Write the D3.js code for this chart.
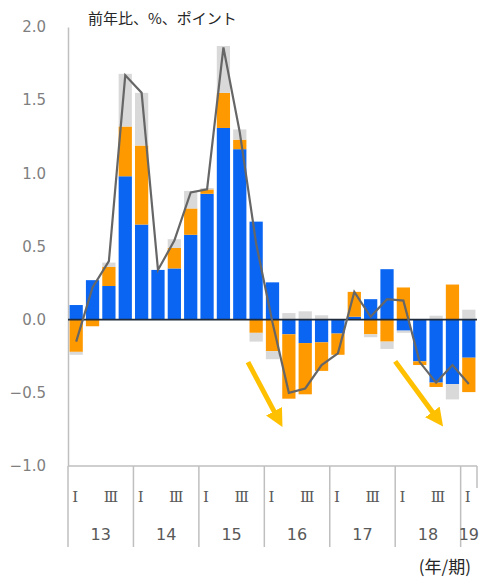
<!DOCTYPE html>
<html><head><meta charset="utf-8">
<script src="https://cdn.jsdelivr.net/npm/d3@7"></script>
<style>html,body{margin:0;padding:0;background:#fff;}</style>
</head><body>
<svg id="c" width="482" height="585"></svg>
<script>
// ---- data ----
const years = ["13","14","15","16","17","18","19"];
const quarters = [
 "13Q1","13Q2","13Q3","13Q4","14Q1","14Q2","14Q3","14Q4",
 "15Q1","15Q2","15Q3","15Q4","16Q1","16Q2","16Q3","16Q4",
 "17Q1","17Q2","17Q3","17Q4","18Q1","18Q2","18Q3","18Q4","19Q1"];
const blueVals   = [0.10,0.27,0.23,0.98,0.65,0.34,0.35,0.58,0.86,1.31,1.165,0.67,0.255,-0.10,-0.16,-0.155,-0.095,0.02,0.14,0.345,-0.075,-0.285,-0.43,-0.44,-0.26];
const orangeVals = [-0.22,-0.045,0.13,0.34,0.54,0.0,0.14,0.18,0.03,0.24,0.065,-0.09,-0.215,-0.44,-0.35,-0.195,-0.145,0.17,-0.10,-0.15,0.22,-0.025,-0.03,0.24,-0.235];
const grayVals   = [-0.02,0.0,0.03,0.36,0.36,0.0,0.06,0.12,0.01,0.32,0.07,-0.06,-0.055,0.045,0.057,0.03,0.0,0.0,-0.02,-0.05,-0.015,0.0,0.027,-0.105,0.068];
const lineVals   = [-0.15,0.22,0.40,1.67,1.55,0.34,0.54,0.87,0.89,1.86,1.28,0.52,-0.02,-0.50,-0.47,-0.31,-0.23,0.19,0.02,0.14,0.13,-0.29,-0.43,-0.31,-0.44];
const yTicks = [2.0,1.5,1.0,0.5,0.0,-0.5,-1.0];
const quarterTickLabels = ["Ⅰ","Ⅲ"];
// arrows in data space: [quarter position, value]
const arrows = [
  {from:[11.0,-0.29], to:[12.85,-0.68]},
  {from:[20.0,-0.285], to:[22.6,-0.68]}
];

// ---- layout ----
const svg = d3.select("#c");
const pLeft = 68, pRight = 477, pTop = 27, pBottom = 466;
const y = d3.scaleLinear().domain([-1,2]).range([pBottom, pTop]);
const x = d3.scaleBand().domain(quarters).range([pLeft, pRight]).paddingInner(0.19).paddingOuter(0.095);
const xc = d3.scaleLinear().domain([0, quarters.length]).range([pLeft, pRight]);

const colors = {blue:"#0A66F2", orange:"#FF9900", gray:"#D9D9D9"};
const keys = ["blue","orange","gray"];
const table = quarters.map((q,i)=>({q, blue:blueVals[i], orange:orangeVals[i], gray:grayVals[i]}));
const stack = d3.stack().keys(keys).offset(d3.stackOffsetDiverging);
const series = stack(table);

// y axis
const yAxis = d3.axisLeft(y).tickValues(yTicks).tickFormat(d3.format(".1f")).tickSize(0).tickPadding(22);
const ga = svg.append("g").attr("transform",`translate(${pLeft},0)`).call(yAxis);
ga.select(".domain").attr("stroke","#BFBFBF").attr("stroke-width",1.5);
ga.selectAll("text").attr("font-family","DejaVu Sans, Verdana, sans-serif").attr("font-size",15).attr("fill","#7F7F7F");

// bottom line at -1.0
svg.append("line").attr("x1",pLeft).attr("x2",pRight).attr("y1",y(-1)).attr("y2",y(-1))
  .attr("stroke","#BFBFBF").attr("stroke-width",1.5);

// bars
svg.append("g").selectAll("g").data(series).join("g")
  .attr("fill", d=>colors[d.key])
  .selectAll("rect").data(d=>d).join("rect")
  .attr("x", d=>x(d.data.q))
  .attr("width", x.bandwidth())
  .attr("y", d=>y(Math.max(d[0],d[1])))
  .attr("height", d=>Math.abs(y(d[0])-y(d[1])));

// zero line
svg.append("line").attr("x1",pLeft).attr("x2",pRight).attr("y1",y(0)).attr("y2",y(0))
  .attr("stroke","#1F2A3A").attr("stroke-width",1.6);

// total line
const line = d3.line().x((d,i)=>x(quarters[i])+x.bandwidth()/2).y(d=>y(d));
svg.append("path").datum(lineVals).attr("d",line).attr("fill","none")
  .attr("stroke","#666666").attr("stroke-width",2.2).attr("stroke-linejoin","miter");

// arrows
const defs = svg.append("defs");
defs.append("marker").attr("id","ah").attr("viewBox","0 0 10 10").attr("refX",5).attr("refY",5)
  .attr("markerWidth",3.6).attr("markerHeight",3.6).attr("orient","auto")
  .append("path").attr("d","M0,0 L10,5 L0,10 Z").attr("fill","#FFC000");
arrows.forEach(a=>{
  svg.append("line").attr("x1",xc(a.from[0])).attr("y1",y(a.from[1]))
    .attr("x2",xc(a.to[0])).attr("y2",y(a.to[1]))
    .attr("stroke","#FFC000").attr("stroke-width",5).attr("marker-end","url(#ah)");
});

// category axis (two-level)
const catBottom = 547;
const yearBounds = years.map((yr,i)=>i*4);
yearBounds.push(quarters.length);
svg.append("g").selectAll("line").data(yearBounds).join("line")
  .attr("x1",d=>xc(d)).attr("x2",d=>xc(d))
  .attr("y1",y(-1)).attr("y2",(d,i)=> i===yearBounds.length-1 ? y(-1)+22 : catBottom)
  .attr("stroke","#BFBFBF").attr("stroke-width",1.5);

// quarter labels
const qLabelData = [];
quarters.forEach((q,i)=>{ const k=i%4; if(k===0) qLabelData.push({i,t:quarterTickLabels[0]}); if(k===2) qLabelData.push({i,t:quarterTickLabels[1]}); });
svg.append("g").selectAll("text").data(qLabelData).join("text")
  .attr("x",d=>x(quarters[d.i])+x.bandwidth()/2 + (d.t==="Ⅲ"?2:-1))
  .attr("y",502).attr("text-anchor","middle")
  .attr("font-family","DejaVu Serif, Liberation Serif, serif").attr("font-size",15).attr("fill","#595959")
  .text(d=>d.t);

// year labels
svg.append("g").selectAll("text").data(years).join("text")
  .attr("x",(d,i)=> (xc(i*4)+xc(Math.min(i*4+4, quarters.length)))/2)
  .attr("y",540).attr("text-anchor","middle")
  .attr("font-family","DejaVu Sans, Verdana, sans-serif").attr("font-size",16).attr("fill","#595959")
  .text(d=>d);

// titles
svg.append("text").attr("x",88).attr("y",24).attr("font-family","Noto Sans CJK JP, sans-serif")
  .attr("font-size",15).attr("fill","#262626").text("前年比、%、ポイント");
svg.append("text").attr("x",471).attr("y",573).attr("text-anchor","end").attr("font-family","Noto Sans CJK JP, sans-serif")
  .attr("font-size",17).attr("fill","#262626").text("(年/期)");
</script>
</body></html>
